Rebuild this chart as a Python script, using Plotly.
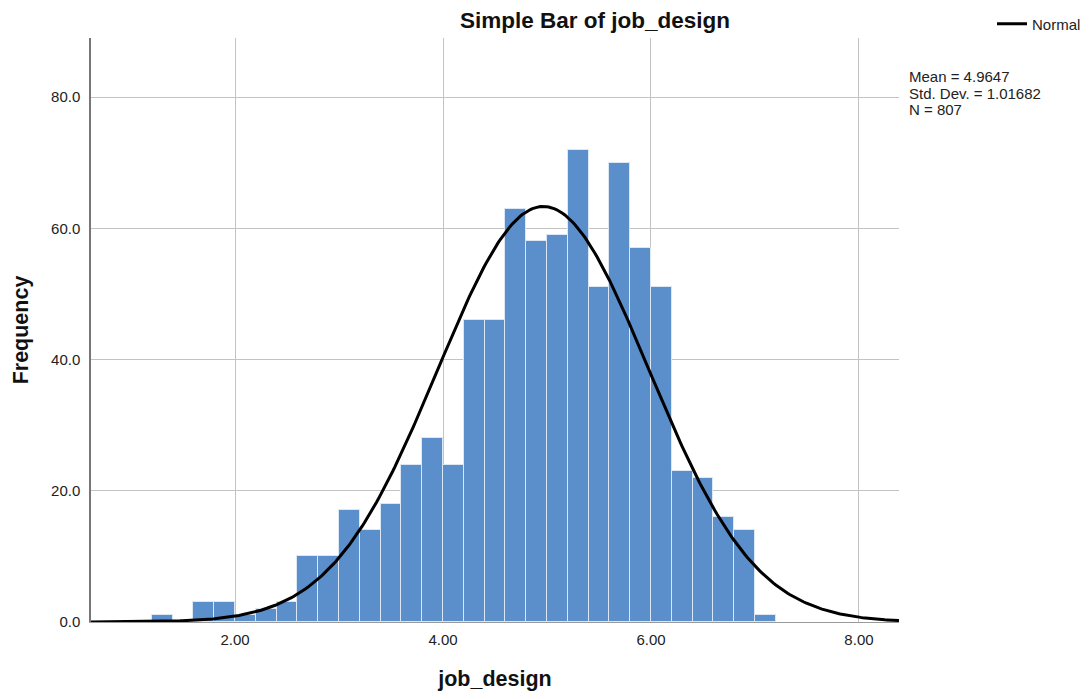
import numpy as np
import plotly.graph_objects as go

# ---- data ----
bin_centers = [1.3, 1.5, 1.7, 1.9, 2.1, 2.3, 2.5, 2.7, 2.9, 3.1,
               3.3, 3.5, 3.7, 3.9, 4.1, 4.3, 4.5, 4.7, 4.9, 5.1,
               5.3, 5.5, 5.7, 5.9, 6.1, 6.3, 6.5, 6.7, 6.9, 7.1]
frequencies = [1, 0, 3, 3, 1, 2, 3, 10, 10, 17,
               14, 18, 24, 28, 24, 46, 46, 63, 58, 59,
               72, 51, 70, 57, 51, 23, 22, 16, 14, 1]
bin_width = 0.2
mean_value = 4.9647
std_dev = 1.01682
n_obs = 807

x_tick_vals = [2, 4, 6, 8]
x_tick_text = ["2.00", "4.00", "6.00", "8.00"]
y_tick_vals = [0, 20, 40, 60, 80]
y_tick_text = ["0.0", "20.0", "40.0", "60.0", "80.0"]
stats_lines = [f"Mean = {mean_value}", f"Std. Dev. = {std_dev}", f"N = {n_obs}"]

x_range = [0.615, 8.385]
y_range = [0, 89]

# fitted normal curve (from the stated mean, sd and N)
curve_x = np.linspace(x_range[0], x_range[1], 400)
curve_y = n_obs * bin_width * np.exp(-0.5 * ((curve_x - mean_value) / std_dev) ** 2) / (std_dev * np.sqrt(2 * np.pi))

FONT = "Liberation Sans, Arial, sans-serif"

fig = go.Figure()
fig.add_trace(go.Bar(
    x=bin_centers, y=frequencies, width=bin_width,
    marker=dict(color="#5b8fcc", line=dict(color="#dce7f5", width=1)),
    showlegend=False, hoverinfo="x+y",
))
fig.add_trace(go.Scatter(
    x=curve_x, y=curve_y, mode="lines", name="Normal",
    line=dict(color="black", width=3), showlegend=True,
))

annotations = [
    dict(text="<b>Simple Bar of job_design</b>", xref="paper", yref="paper",
         x=(595 - 91) / 808, y=(622 - 21) / 584, xanchor="center", yanchor="middle",
         showarrow=False, font=dict(size=22.5, color="#111")),
]
for i, line in enumerate(stats_lines):
    annotations.append(dict(
        text=line, xref="paper", yref="paper",
        x=(907 - 91) / 808, y=(622 - (76.5 + 16.5 * i)) / 584,
        xanchor="left", yanchor="middle", align="left", showarrow=False,
        font=dict(size=15, color="#222")))

fig.update_layout(
    width=1073, height=683,
    margin=dict(l=83, r=182, t=30, b=69, autoexpand=False),
    plot_bgcolor="white", paper_bgcolor="white",
    font=dict(family=FONT, size=15, color="#222"),
    bargap=0,
    legend=dict(x=(992 - 91) / 808, y=(622 - 24) / 584, xanchor="left", yanchor="middle",
                bgcolor="rgba(0,0,0,0)", font=dict(size=15, color="#222"),
                itemwidth=30, tracegroupgap=0),
    xaxis=dict(range=x_range, tickvals=x_tick_vals, ticktext=x_tick_text,
               showgrid=True, gridcolor="#c3c3c3", gridwidth=1,
               showline=True, linecolor="#9a9a9a", linewidth=1,
               ticks="", ticklabelstandoff=4, zeroline=False, automargin=False,
               tickfont=dict(size=15, color="#222"),
               title=dict(text="<b>job_design</b>", font=dict(size=21.5, color="#111"), standoff=33)),
    yaxis=dict(range=y_range, tickvals=y_tick_vals, ticktext=y_tick_text,
               showgrid=True, gridcolor="#c3c3c3", gridwidth=1,
               showline=True, linecolor="#777", linewidth=1.5,
               ticks="", ticklabelstandoff=6, zeroline=False, automargin=False,
               tickfont=dict(size=15, color="#222"),
               title=dict(text="<b>Frequency</b>", font=dict(size=21.5, color="#111"), standoff=17)),
    annotations=annotations,
)

fig.write_html("out.html")
